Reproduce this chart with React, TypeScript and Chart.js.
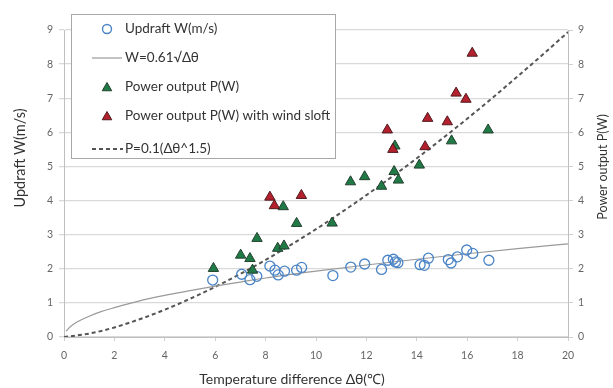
import React, { useEffect, useRef } from "react";
import { Chart, registerables } from "chart.js";

Chart.register(...registerables);

// Updraft W (m/s) — blue open circles
const updraftX = [5.9, 7.05, 7.38, 7.65, 8.17, 8.37, 8.5, 8.75, 9.23, 9.43, 10.67, 11.38, 11.93, 12.6, 12.85, 13.07, 13.15, 13.25, 14.13, 14.3, 14.46, 15.25, 15.36, 15.61, 15.98, 16.22, 16.86];
const updraftY = [1.67, 1.84, 1.68, 1.78, 2.08, 1.96, 1.82, 1.93, 1.96, 2.04, 1.8, 2.05, 2.14, 1.98, 2.25, 2.28, 2.2, 2.18, 2.12, 2.1, 2.31, 2.27, 2.17, 2.35, 2.55, 2.45, 2.25];

// Power output P (W) — green triangles
const powerX = [5.93, 7.01, 7.38, 7.48, 7.66, 8.48, 8.73, 8.7, 9.23, 10.64, 11.37, 11.93, 12.6, 13.1, 13.27, 13.13, 14.1, 15.38, 16.83];
const powerY = [2.01, 2.4, 2.3, 1.96, 2.89, 2.6, 2.67, 3.82, 3.33, 3.34, 4.55, 4.7, 4.42, 4.85, 4.6, 5.6, 5.04, 5.75, 6.07];

// Power output P (W) with wind aloft — red triangles
const windX = [8.17, 8.35, 9.42, 12.83, 13.05, 14.33, 14.43, 15.21, 15.56, 15.95, 16.2];
const windY = [4.1, 3.85, 4.15, 6.07, 5.5, 5.58, 6.41, 6.31, 7.15, 6.97, 8.32];

// Curve W=0.61√Δθ
const fitWX = [0.08, 0.25, 0.5, 1, 1.5, 2, 3, 4, 5, 6, 7, 8, 10, 12, 14, 16, 18, 20];
const fitWY = [0.17, 0.3, 0.43, 0.61, 0.75, 0.86, 1.06, 1.22, 1.36, 1.49, 1.61, 1.73, 1.93, 2.11, 2.28, 2.44, 2.59, 2.73];

// Dashed curve P=0.1(Δθ^1.5)
const fitPX = [0, 1, 2, 3, 4, 5, 6, 7, 8, 9, 10, 11, 12, 13, 14, 15, 16, 17, 18, 19, 20];
const fitPY = [0, 0.1, 0.28, 0.52, 0.8, 1.12, 1.47, 1.85, 2.26, 2.7, 3.16, 3.65, 4.16, 4.69, 5.24, 5.81, 6.4, 7.01, 7.64, 8.28, 8.94];

const legendLabels = [
  "Updraft W(m/s)",
  "W=0.61\u221A\u0394\u03B8",
  "Power output P(W)",
  "Power output P(W) with wind sloft",
  "P=0.1(\u0394\u03B8^1.5)",
];

const xTitle = "Temperature difference \u0394\u03B8(\u2103)";
const yTitle = "Updraft W(m/s)";
const y2Title = "Power output P(W)";

const FONT = "Lato, 'Open Sans', sans-serif";
const BLUE = "#4a84c6";
const GREEN = "#1f7a46";
const GREEN_EDGE = "#23402e";
const RED = "#b4202d";
const RED_EDGE = "#4f1a1d";

const toPts = (xs: number[], ys: number[]) => xs.map((x, i) => ({ x, y: ys[i] }));

function triangle(ctx: CanvasRenderingContext2D, x: number, y: number, r: number) {
  let rad = 0;
  const step = (Math.PI * 2) / 3;
  ctx.beginPath();
  ctx.moveTo(x + Math.sin(rad) * r, y - Math.cos(rad) * r);
  rad += step;
  ctx.lineTo(x + Math.sin(rad) * r, y - Math.cos(rad) * r);
  rad += step;
  ctx.lineTo(x + Math.sin(rad) * r, y - Math.cos(rad) * r);
  ctx.closePath();
}

const overlayPlugin = {
  id: "overlay",
  afterDraw(chart: any) {
    const ctx: CanvasRenderingContext2D = chart.ctx;
    const a = chart.chartArea;
    ctx.save();
    // Legend box
    const bx = a.left + 7, by = 14, bw = 264, bh = 144;
    ctx.fillStyle = "#ffffff";
    ctx.fillRect(bx, by, bw, bh);
    ctx.strokeStyle = "#a8a8a8";
    ctx.lineWidth = 1;
    ctx.strokeRect(bx + 0.5, by + 0.5, bw, bh);

    const mx = bx + 36;
    const tx = bx + 54;
    const ys = [29, 58, 87, 116, 149];
    // circle
    ctx.beginPath();
    ctx.arc(mx, ys[0], 4.5, 0, Math.PI * 2);
    ctx.strokeStyle = BLUE;
    ctx.lineWidth = 1.4;
    ctx.stroke();
    // thin line
    ctx.beginPath();
    ctx.moveTo(bx + 21, ys[1]);
    ctx.lineTo(bx + 51, ys[1]);
    ctx.strokeStyle = "#9a9a9a";
    ctx.lineWidth = 1.2;
    ctx.stroke();
    // green triangle
    triangle(ctx, mx, ys[2] + 1, 5.5);
    ctx.fillStyle = GREEN;
    ctx.fill();
    ctx.strokeStyle = GREEN_EDGE;
    ctx.lineWidth = 1;
    ctx.stroke();
    // red triangle
    triangle(ctx, mx, ys[3] + 1, 5.5);
    ctx.fillStyle = RED;
    ctx.fill();
    ctx.strokeStyle = RED_EDGE;
    ctx.stroke();
    // dashed
    ctx.beginPath();
    ctx.setLineDash([4, 3]);
    ctx.moveTo(bx + 21, ys[4]);
    ctx.lineTo(bx + 52, ys[4]);
    ctx.strokeStyle = "#555555";
    ctx.lineWidth = 2;
    ctx.stroke();
    ctx.setLineDash([]);

    ctx.fillStyle = "#333333";
    ctx.font = `13.5px ${FONT}`;
    ctx.textBaseline = "middle";
    ctx.textAlign = "left";
    legendLabels.forEach((t, i) => ctx.fillText(t, tx, ys[i]));

    // Axis titles
    ctx.fillStyle = "#333333";
    ctx.textAlign = "center";
    ctx.font = `14px ${FONT}`;
    ctx.fillText(xTitle, 292, 379);

    ctx.save();
    ctx.font = `14.5px ${FONT}`;
    ctx.translate(20, 158);
    ctx.rotate(-Math.PI / 2);
    ctx.fillText(yTitle, 0, 0);
    ctx.restore();

    ctx.save();
    ctx.font = `12.5px ${FONT}`;
    ctx.translate(603, 167);
    ctx.rotate(-Math.PI / 2);
    ctx.fillText(y2Title, 0, 0);
    ctx.restore();

    ctx.restore();
  },
};

export default function App() {
  const ref = useRef<HTMLCanvasElement | null>(null);

  useEffect(() => {
    document.body.style.margin = "0";
    const canvas = ref.current;
    if (!canvas) return;
    const tickFont = { family: FONT, size: 10.5 };
    const chart = new Chart(canvas, {
      type: "scatter",
      data: {
        datasets: [
          {
            label: legendLabels[3],
            data: toPts(windX, windY),
            pointStyle: "triangle",
            pointRadius: 6,
            backgroundColor: RED,
            borderColor: RED_EDGE,
            borderWidth: 1,
            yAxisID: "y2",
          },
          {
            label: legendLabels[2],
            data: toPts(powerX, powerY),
            pointStyle: "triangle",
            pointRadius: 6,
            backgroundColor: GREEN,
            borderColor: GREEN_EDGE,
            borderWidth: 1,
            yAxisID: "y2",
          },
          {
            label: legendLabels[0],
            data: toPts(updraftX, updraftY),
            pointStyle: "circle",
            pointRadius: 5,
            backgroundColor: "rgba(255,255,255,0)",
            borderColor: BLUE,
            borderWidth: 1.3,
            yAxisID: "y",
          },
          {
            label: legendLabels[1],
            data: toPts(fitWX, fitWY),
            showLine: true,
            pointRadius: 0,
            borderColor: "#9a9a9a",
            borderWidth: 1.2,
            cubicInterpolationMode: "monotone",
            yAxisID: "y",
          },
          {
            label: legendLabels[4],
            data: toPts(fitPX, fitPY),
            showLine: true,
            pointRadius: 0,
            borderColor: "#555555",
            borderWidth: 2,
            borderDash: [4, 3],
            cubicInterpolationMode: "monotone",
            yAxisID: "y2",
          },
        ],
      } as any,
      options: {
        animation: false,
        responsive: false,
        layout: { padding: { top: 30, left: 0, right: 0, bottom: 0 } },
        plugins: {
          legend: { display: false },
          tooltip: { enabled: false },
          title: { display: false },
        },
        scales: {
          x: {
            type: "linear",
            min: 0,
            max: 20,
            ticks: { stepSize: 2, color: "#666666", font: tickFont, padding: 8 },
            grid: { drawOnChartArea: false, tickLength: 4, color: "#cfcfcf" },
            border: { color: "#bfbfbf" },
            afterFit: (s: any) => { s.height = 51; },
          },
          y: {
            type: "linear",
            position: "left",
            min: 0,
            max: 9,
            ticks: { stepSize: 1, color: "#666666", font: tickFont, padding: 6 },
            grid: { color: "#d9d9d9", lineWidth: 1.3, tickLength: 5 },
            border: { color: "#bfbfbf" },
            afterFit: (s: any) => { s.width = 64; },
          },
          y2: {
            type: "linear",
            position: "right",
            min: 0,
            max: 9,
            ticks: { stepSize: 1, color: "#666666", font: tickFont, padding: 5 },
            grid: { drawOnChartArea: false, color: "#cfcfcf", tickLength: 5 },
            border: { color: "#bfbfbf" },
            afterFit: (s: any) => { s.width = 45; },
          },
        },
      } as any,
      plugins: [overlayPlugin],
    });
    return () => chart.destroy();
  }, []);

  return (
    <div style={{ width: 613, height: 388, position: "relative", background: "#fff" }}>
      <canvas ref={ref} width={613} height={388} />
    </div>
  );
}
